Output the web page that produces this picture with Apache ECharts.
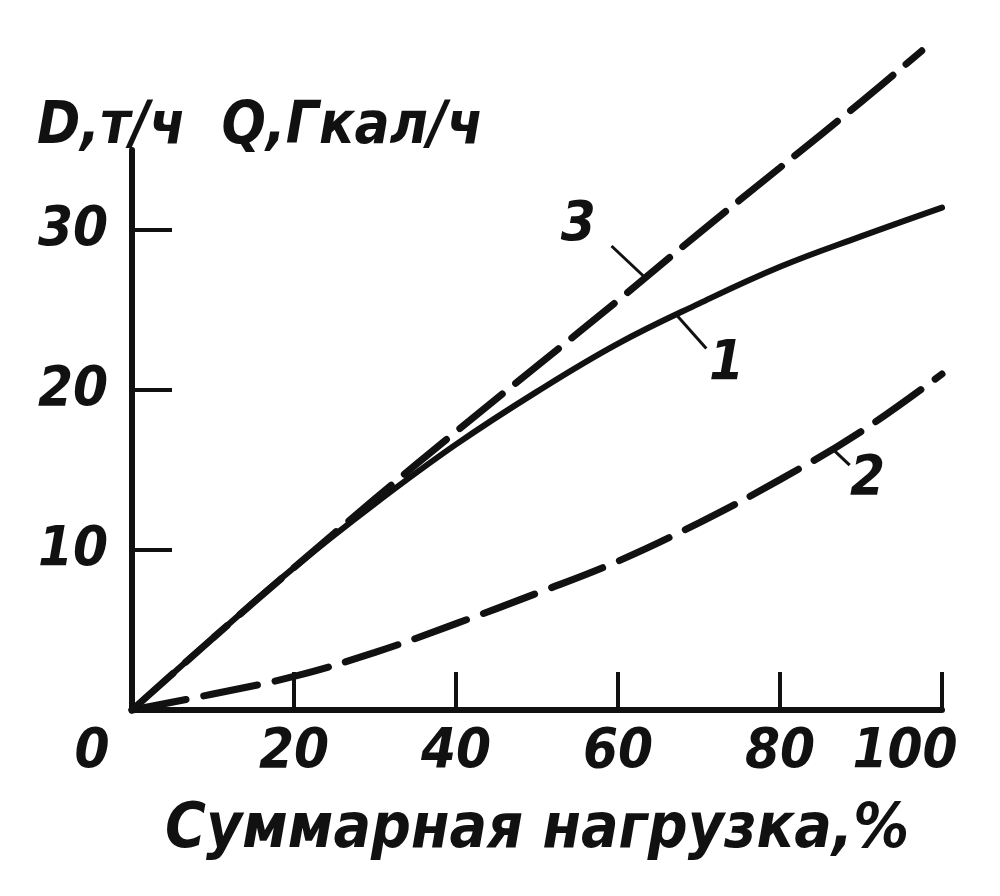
<!DOCTYPE html>
<html><head><meta charset="utf-8">
<script src="https://cdn.jsdelivr.net/npm/echarts@6/dist/echarts.min.js"></script>
<style>html,body{margin:0;padding:0;background:#fff}#c{width:1000px;height:896px}</style>
</head><body><div id="c"></div>
<script>
// Load, %
const loads = [0, 10, 20, 30, 40, 50, 60, 70, 80, 90, 100];
const loads3 = [0, 10, 20, 30, 40, 50, 60, 70, 80, 90, 97.5];
// Curve 1 (solid), curve 2 (dashed, lower), curve 3 (dashed, upper)
const curve1 = [0, 4.5, 8.9, 12.9, 16.6, 19.9, 22.9, 25.4, 27.7, 29.6, 31.4];
const curve2 = [0, 1.0, 2.1, 3.6, 5.4, 7.3, 9.3, 11.7, 14.4, 17.4, 21.0];
const curve3 = [0, 4.5, 8.9, 13.2, 17.4, 21.5, 25.6, 29.8, 33.9, 38.0, 41.2];
const xTickValues = [20, 40, 60, 80, 100];
const xLabelValues = [0, 20, 40, 60, 80, 100];
const yTickValues = [10, 20, 30];
const curveNames = ['1', '2', '3'];
// label anchors and leader lines (data coordinates)
const labelAt = [[73.4, 21.6], [90.8, 14.4], [55.1, 30.3]];
const leaderFrom = [[67.2, 24.7], [86.5, 16.3], [63.4, 27.0]];
const leaderTo = [[70.9, 22.6], [88.6, 15.3], [59.2, 29.0]];
const yTitle = 'D,т/ч  Q,Гкал/ч';
const xTitle = 'Суммарная нагрузка,%';

const FONT = '"DejaVu Sans Condensed", "Liberation Sans Narrow", "DejaVu Sans", sans-serif';
const INK = '#111';

function pairs(xs, ys) { return xs.map((x, i) => [x, ys[i]]); }

const seriesData = [pairs(loads, curve1), pairs(loads, curve2), pairs(loads3, curve3)];
const lineTypes = ['solid', [55, 18], [55, 17]];
const lineWidths = [6, 7, 7];

const series = seriesData.map((d, i) => ({
  type: 'line',
  data: d,
  smooth: 0.4,
  symbol: 'none',
  clip: false,
  lineStyle: { color: INK, width: lineWidths[i], type: lineTypes[i], cap: 'round' },
  markLine: {
    silent: true, symbol: ['none', 'none'],
    label: { show: false },
    lineStyle: { color: INK, width: 3, type: 'solid' },
    data: [[{ coord: leaderFrom[i] }, { coord: leaderTo[i] }]]
  },
  markPoint: {
    silent: true, symbol: 'circle', symbolSize: 1,
    itemStyle: { color: 'rgba(0,0,0,0)' },
    label: { show: true, position: 'inside', formatter: curveNames[i], color: INK,
      fontFamily: FONT, fontStyle: 'italic', fontWeight: 'bold', fontSize: 56 },
    data: [{ coord: labelAt[i] }]
  }
}));

const chart = echarts.init(document.getElementById('c'), null, { renderer: 'canvas' });
chart.setOption({
  animation: false,
  backgroundColor: '#fff',
  title: {
    text: yTitle, left: 32, top: 94,
    textStyle: { color: INK, fontFamily: FONT, fontStyle: 'italic', fontWeight: 'bold', fontSize: 58 }
  },
  grid: { left: 132, right: 58, top: 150, bottom: 186 },
  xAxis: {
    type: 'value', min: 0, max: 100, interval: 20,
    name: xTitle, nameLocation: 'middle', nameGap: 90,
    nameTextStyle: { color: INK, fontFamily: FONT, fontStyle: 'italic', fontWeight: 'bold', fontSize: 62 },
    axisLine: { lineStyle: { color: INK, width: 6 } },
    axisTick: { show: true, inside: true, length: 38, customValues: xTickValues, lineStyle: { color: INK, width: 4 } },
    axisLabel: {
      customValues: xLabelValues, margin: 14, color: INK,
      fontFamily: FONT, fontStyle: 'italic', fontWeight: 'bold', fontSize: 56,
      formatter: v => v === 0 ? '{a|0}' : (v === 100 ? '{b|100}' : String(v)),
      rich: {
        a: { padding: [0, 80, 0, 0], color: INK, fontFamily: FONT, fontStyle: 'italic', fontWeight: 'bold', fontSize: 56 },
        b: { padding: [0, 74, 0, 0], color: INK, fontFamily: FONT, fontStyle: 'italic', fontWeight: 'bold', fontSize: 56 }
      }
    },
    splitLine: { show: false }
  },
  yAxis: {
    type: 'value', min: 0, max: 35, interval: 10,
    axisLine: { lineStyle: { color: INK, width: 6 } },
    axisTick: { show: true, inside: true, length: 40, customValues: yTickValues, lineStyle: { color: INK, width: 4 } },
    axisLabel: {
      customValues: yTickValues, margin: 24, color: INK,
      fontFamily: FONT, fontStyle: 'italic', fontWeight: 'bold', fontSize: 56
    },
    splitLine: { show: false }
  },
  series: series
});
</script></body></html>
